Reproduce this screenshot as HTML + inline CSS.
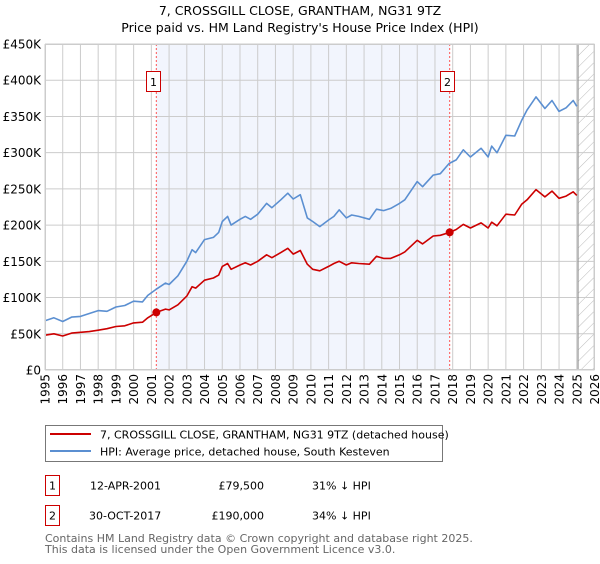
<!DOCTYPE html>
<html><head><meta charset="utf-8">
<style>
body{margin:0;background:#fff;font-family:"DejaVu Sans","Liberation Sans",sans-serif;}
svg text{font-family:"DejaVu Sans","Liberation Sans",sans-serif;}
</style></head>
<body>
<svg id="chart" width="600" height="560" viewBox="0 0 600 560" xmlns="http://www.w3.org/2000/svg">
<defs>
<pattern id="hatch" patternUnits="userSpaceOnUse" width="8" height="8" patternTransform="rotate(45)">
<line x1="0" y1="0" x2="0" y2="8" stroke="#bbb" stroke-width="1"/>
</pattern>
</defs>
<text x="300" y="15" text-anchor="middle" font-size="12.5">7, CROSSGILL CLOSE, GRANTHAM, NG31 9TZ</text>
<text x="300" y="32" text-anchor="middle" font-size="12.5">Price paid vs. HM Land Registry's House Price Index (HPI)</text>
<g id="plot"></g>
<g id="legend">
<rect x="45.5" y="425.5" width="397" height="36" fill="#fff" stroke="#777"/>
<line x1="50" y1="434" x2="91" y2="434" stroke="#cc0000" stroke-width="2"/>
<text x="100" y="438.5" font-size="11">7, CROSSGILL CLOSE, GRANTHAM, NG31 9TZ (detached house)</text>
<line x1="50" y1="451" x2="91" y2="451" stroke="#5b8fd1" stroke-width="2"/>
<text x="100" y="455.5" font-size="11">HPI: Average price, detached house, South Kesteven</text>
</g>
<g font-size="11">
<rect x="45.5" y="475.5" width="14" height="20" fill="#fff" stroke="#cc0000"/>
<text x="52.5" y="489.5" text-anchor="middle">1</text>
<text x="90" y="489.5">12-APR-2001</text>
<text x="264" y="489.5" text-anchor="end">£79,500</text>
<text x="312" y="489.5">31% ↓ HPI</text>
</g>
<g font-size="11">
<rect x="45.5" y="505.5" width="14" height="20" fill="#fff" stroke="#cc0000"/>
<text x="52.5" y="519.5" text-anchor="middle">2</text>
<text x="89" y="519.5">30-OCT-2017</text>
<text x="264" y="519.5" text-anchor="end">£190,000</text>
<text x="312" y="519.5">34% ↓ HPI</text>
</g>
<text x="45" y="542" font-size="11" fill="#666">Contains HM Land Registry data © Crown copyright and database right 2025.</text>
<text x="45" y="553" font-size="11" fill="#666">This data is licensed under the Open Government Licence v3.0.</text>
</svg>
<script>
const yTicks=[0,50,100,150,200,250,300,350,400,450];
const yTickLabels=["£0","£50K","£100K","£150K","£200K","£250K","£300K","£350K","£400K","£450K"];
const xYears=[1995,1996,1997,1998,1999,2000,2001,2002,2003,2004,2005,2006,2007,2008,2009,2010,2011,2012,2013,2014,2015,2016,2017,2018,2019,2020,2021,2022,2023,2024,2025,2026];
const hpiDates=[1995.0,1995.5,1996.0,1996.5,1997.0,1997.5,1998.0,1998.5,1999.0,1999.5,2000.0,2000.5,2000.8,2001.3,2001.8,2002.0,2002.5,2003.0,2003.3,2003.5,2004.0,2004.5,2004.8,2005.0,2005.3,2005.5,2006.0,2006.3,2006.6,2007.0,2007.5,2007.8,2008.3,2008.7,2009.0,2009.4,2009.8,2010.1,2010.5,2011.0,2011.3,2011.6,2012.0,2012.3,2012.7,2013.3,2013.7,2014.1,2014.5,2015.0,2015.3,2016.0,2016.3,2016.9,2017.3,2017.8,2018.2,2018.6,2019.0,2019.6,2020.0,2020.2,2020.5,2021.0,2021.5,2021.9,2022.2,2022.7,2023.2,2023.6,2024.0,2024.4,2024.8,2025.0];
const hpiValues=[68,72,67,73,74,78,82,81,87,89,95,94,103,112,120,118,130,150,166,162,180,183,190,205,212,200,208,212,208,215,230,224,235,244,236,242,210,205,198,207,212,221,210,214,212,208,222,220,223,230,235,260,253,269,271,285,290,304,294,306,294,309,300,324,323,345,359,377,361,372,357,362,372,364];
const ppDates=[1995.0,1995.5,1996.0,1996.5,1997.0,1997.5,1998.0,1998.5,1999.0,1999.5,2000.0,2000.5,2000.8,2001.28,2001.8,2002.0,2002.5,2003.0,2003.3,2003.5,2004.0,2004.5,2004.8,2005.0,2005.3,2005.5,2006.0,2006.3,2006.6,2007.0,2007.5,2007.8,2008.3,2008.7,2009.0,2009.4,2009.8,2010.1,2010.5,2011.0,2011.3,2011.6,2012.0,2012.3,2012.7,2013.3,2013.7,2014.1,2014.5,2015.0,2015.3,2016.0,2016.3,2016.9,2017.3,2017.83,2018.2,2018.6,2019.0,2019.6,2020.0,2020.2,2020.5,2021.0,2021.5,2021.9,2022.2,2022.7,2023.2,2023.6,2024.0,2024.4,2024.8,2025.0];
const ppValues=[48,50,47,51,52,53,55,57,60,61,65,66,72,79.5,84,83,90,102,115,113,124,127,131,143,147,139,145,148,145,150,159,155,162,168,160,165,146,139,137,143,147,150,145,148,147,146,157,154,154,159,163,179,174,185,186,190,194,201,196,203,196,204,199,215,214,229,235,249,239,247,237,240,246,241];
const saleDates=[2001.28,2017.83];
const saleValues=[79.5,190];
const saleLabels=["1","2"];
const shadeStart=2001.28, shadeEnd=2017.83, forecastStart=2025.1;

const NS="http://www.w3.org/2000/svg";
const L=45,R=594.5,T=44,B=370;
const x=d=>L+(d-1995)/(2026-1995)*(R-L);
const y=v=>B-v/450*(B-T);
const g=document.getElementById('plot');
function mk(tag,attrs,parent){const e=document.createElementNS(NS,tag);for(const k in attrs)e.setAttribute(k,attrs[k]);(parent||g).appendChild(e);return e;}

const bg=mk('rect',{x:L,y:T,width:R-L,height:B-T,fill:'#fff'});


const sh=mk('rect',{x:x(shadeStart),y:T,width:x(shadeEnd)-x(shadeStart),height:B-T,fill:'#f2f5fd'});


const hz=mk('rect',{x:x(forecastStart),y:T,width:R-x(forecastStart),height:B-T,fill:'url(#hatch)'});



yTicks.forEach((v,i)=>{
  const ln=mk('line',{x1:L,x2:R,y1:y(v),y2:y(v),stroke:'#cccccc','stroke-width':1});
  
  
  const t=mk('text',{x:L-4,y:y(v)+4.5,'text-anchor':'end','font-size':12});
  
  
  t.textContent=yTickLabels[i];
});
xYears.forEach(yr=>{
  const ln=mk('line',{x1:x(yr),x2:x(yr),y1:T,y2:B,stroke:'#cccccc','stroke-width':1});
  
  
  const t=mk('text',{x:0,y:0,'text-anchor':'end','font-size':12,transform:`translate(${x(yr)+4.5},${B+4}) rotate(-90)`});
  
  
  t.textContent=yr;
});
const fl=mk('line',{x1:x(forecastStart)-0.5,x2:x(forecastStart)-0.5,y1:T,y2:B,stroke:'#888','stroke-width':1});



saleDates.forEach((d,i)=>{
  const ln=mk('line',{x1:x(d),x2:x(d),y1:T,y2:B,stroke:'#ff5555','stroke-width':1,'stroke-dasharray':'2,2'});
  
  
});

function path(ds,vs,col,name){
  const p=mk('path',{d:ds.map((d,i)=>(i?'L':'M')+x(d).toFixed(1)+','+y(vs[i]).toFixed(1)).join(''),fill:'none',stroke:col,'stroke-width':1.6,'stroke-linejoin':'round'});
  
  
}
path(hpiDates,hpiValues,'#5b8fd1','hpi-line');
path(ppDates,ppValues,'#cc0000','property-price-line');

saleDates.forEach((d,i)=>{
  const c=mk('circle',{cx:x(d),cy:y(saleValues[i]),r:4,fill:'#cc0000'});
  
  
  const bx=Math.round(x(d)-3);
  const r=mk('rect',{x:bx+0.5-7,y:71.5,width:14,height:20,fill:'#fff',stroke:'#cc0000'});
  
  
  const t=mk('text',{x:bx+0.5,y:86,'text-anchor':'middle','font-size':11});
  
  
  t.textContent=saleLabels[i];
});
const fr=mk('rect',{x:L+0.5,y:T+0.5,width:R-L-1,height:B-T-1,fill:'none',stroke:'#cccccc'});


</script>
</body></html>
